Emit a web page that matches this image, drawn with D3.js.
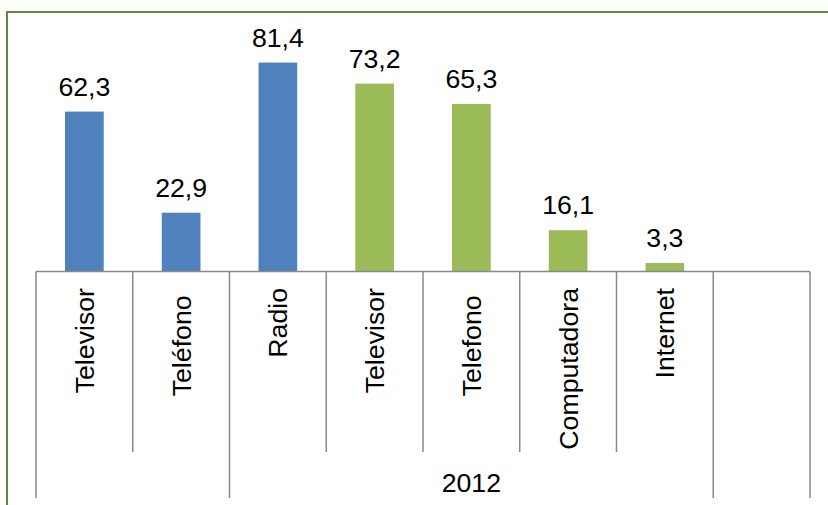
<!DOCTYPE html>
<html>
<head>
<meta charset="utf-8">
<script src="https://cdn.jsdelivr.net/npm/d3@7"></script>
<style>
  html, body { margin: 0; padding: 0; background: #ffffff; }
  svg { display: block; }
  text { font-family: "Liberation Sans", Arial, sans-serif; fill: #000; }
</style>
</head>
<body>
<svg id="chart" width="828" height="505"></svg>
<script>
// ---- data ----
const categories = ["Televisor", "Teléfono ", "Radio", "Televisor", "Telefono ", "Computadora", "Internet", ""];
const seriesBlue  = [62.3, 22.9, 81.4, null, null, null, null, null];
const seriesGreen = [null, null, null, 73.2, 65.3, 16.1, 3.3, null];
const groupLabels = ["", "2012", ""];
const groupSizes  = [2, 5, 1];
const labelFormat = v => String(v).replace(".", ",");

// ---- layout ----
const FS = 26.7;
const svg = d3.select("#chart");
const colors = { blue: "#4F81BD", green: "#9BBB59", axis: "#898989", border: "#5f8a3a" };

const x = d3.scaleBand().domain(d3.range(categories.length)).range([36, 810]).paddingInner(0).paddingOuter(0);
const y = d3.scaleLinear().domain([0, 90]).range([271.5, 40.5]);

// chart-area border (right and bottom edges fall outside the picture)
svg.append("rect")
  .attr("x", 7).attr("y", 12).attr("width", 840).attr("height", 520)
  .attr("fill", "none").attr("stroke", colors.border).attr("stroke-width", 2);

const barW = x.bandwidth() * 0.4;
function drawSeries(vals, color) {
  const data = vals.map((v, i) => ({ v, i })).filter(d => d.v != null);
  svg.append("g").selectAll("rect").data(data).join("rect")
    .attr("x", d => x(d.i) + (x.bandwidth() - barW) / 2)
    .attr("width", barW)
    .attr("y", d => y(d.v))
    .attr("height", d => y(0) - y(d.v))
    .attr("fill", color);
  svg.append("g").selectAll("text").data(data).join("text")
    .attr("x", d => x(d.i) + x.bandwidth() / 2)
    .attr("y", d => y(d.v) - 16)
    .attr("text-anchor", "middle")
    .attr("font-size", FS)
    .text(d => labelFormat(d.v));
}
drawSeries(seriesBlue, colors.blue);
drawSeries(seriesGreen, colors.green);

// category axis
const axisY = y(0);
svg.append("line")
  .attr("x1", x.range()[0]).attr("x2", x.range()[1])
  .attr("y1", axisY).attr("y2", axisY)
  .attr("stroke", colors.axis).attr("stroke-width", 1.5);

// group boundaries
const bounds = [0];
groupSizes.forEach(s => bounds.push(bounds[bounds.length - 1] + s));
const boundaryPx = i => (i < categories.length ? x(i) : x.range()[1]);

// inner tick lines (category separators)
const innerTicks = d3.range(1, categories.length).filter(i => !bounds.includes(i));
svg.append("g").selectAll("line").data(innerTicks).join("line")
  .attr("x1", d => boundaryPx(d)).attr("x2", d => boundaryPx(d))
  .attr("y1", axisY).attr("y2", 452)
  .attr("stroke", colors.axis).attr("stroke-width", 1.5);

// group tick lines
svg.append("g").selectAll("line").data(bounds).join("line")
  .attr("x1", d => boundaryPx(d)).attr("x2", d => boundaryPx(d))
  .attr("y1", axisY).attr("y2", 498)
  .attr("stroke", colors.axis).attr("stroke-width", 1.5);

// rotated category labels
svg.append("g").selectAll("text").data(categories).join("text")
  .attr("transform", (d, i) => `translate(${x(i) + x.bandwidth() / 2 + 9.5},288) rotate(-90)`)
  .attr("text-anchor", "end")
  .attr("font-size", FS)
  .style("white-space", "pre")
  .text(d => d);

// group labels
svg.append("g").selectAll("text").data(groupLabels).join("text")
  .attr("x", (d, gi) => (boundaryPx(bounds[gi]) + boundaryPx(bounds[gi + 1])) / 2)
  .attr("y", 492)
  .attr("text-anchor", "middle")
  .attr("font-size", FS)
  .text(d => d);
</script>
</body>
</html>
